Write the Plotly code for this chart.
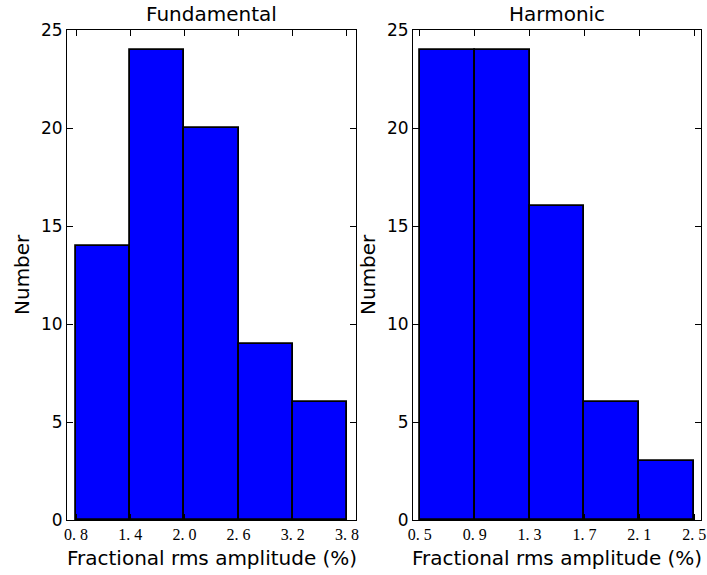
import numpy as np
import plotly.graph_objects as go

# Data
fund_edges = [0.8, 1.4, 2.0, 2.6, 3.2, 3.8]
fund_counts = [14, 24, 20, 9, 6]
harm_edges = [0.5, 0.9, 1.3, 1.7, 2.1, 2.5]
harm_counts = [24, 24, 16, 6, 3]
fund_ticktext = ["0. 8", "1. 4", "2. 0", "2. 6", "3. 2", "3. 8"]
harm_ticktext = ["0. 5", "0. 9", "1. 3", "1. 7", "2. 1", "2. 5"]
y_ticks = [0, 5, 10, 15, 20, 25]
titles = ["Fundamental", "Harmonic"]
xlabel = "Fractional rms amplitude (%)"
ylabel = "Number"

W, H = 707, 575

def centers_widths(edges):
    e = np.array(edges)
    return (e[:-1] + e[1:]) / 2, np.diff(e)

fig = go.Figure()
fc, fw = centers_widths(fund_edges)
hc, hw = centers_widths(harm_edges)
bar_marker = dict(color="#0000ff", line=dict(color="black", width=1.8))
fig.add_trace(go.Bar(x=fc, y=fund_counts, width=fw, marker=bar_marker,
                     xaxis="x", yaxis="y", showlegend=False, hoverinfo="skip"))
fig.add_trace(go.Bar(x=hc, y=harm_counts, width=hw, marker=bar_marker,
                     xaxis="x2", yaxis="y2", showlegend=False, hoverinfo="skip"))

sans = "DejaVu Sans"
serif = "Liberation Serif"

def xax(domain, rng, ticks, ttext, anchor):
    return dict(domain=domain, range=rng, tickvals=ticks, ticktext=ttext, anchor=anchor, automargin=False,
                showgrid=False, zeroline=False, showline=True, linecolor="black", linewidth=1, mirror="ticks",
                ticks="inside", ticklen=6, tickcolor="black",
                tickfont=dict(family=serif, size=16, color="black"))

def yax(domain, anchor):
    return dict(domain=domain, range=[0, 25], tickvals=y_ticks, anchor=anchor, automargin=False,
                showgrid=False, zeroline=False, showline=True, linecolor="black", linewidth=1, mirror="ticks",
                ticks="inside", ticklen=6, tickcolor="black",
                tickfont=dict(family=sans, size=17, color="black"))

L1, R1, L2, R2 = 67, 356, 413, 701
TOP, BOT = 30, 520
ydom = [(H - BOT) / H, (H - TOP) / H]

def ann(text, x, y, angle=0):
    return dict(text=text, x=x / W, y=1 - y / H, xref="paper", yref="paper", showarrow=False,
                textangle=angle, font=dict(family=sans, size=20, color="black"),
                xanchor="center", yanchor="middle", borderpad=0)

fig.update_layout(
    width=W, height=H, paper_bgcolor="white", plot_bgcolor="white",
    margin=dict(l=0, r=0, t=0, b=0), bargap=0,
    xaxis=xax([L1 / W, R1 / W], [0.7, 3.9], fund_edges, fund_ticktext, "y"),
    yaxis=yax(ydom, "x"),
    xaxis2=xax([L2 / W, R2 / W], [0.45, 2.55], harm_edges, harm_ticktext, "y2"),
    yaxis2=yax(ydom, "x2"),
    annotations=[
        ann(titles[0], (L1 + R1) / 2, 14),
        ann(titles[1], (L2 + R2) / 2, 14),
        ann(xlabel, (L1 + R1) / 2, 558),
        ann(xlabel, (L2 + R2) / 2, 558),
        ann(ylabel, 22, (TOP + BOT) / 2, -90),
        ann(ylabel, 368, (TOP + BOT) / 2, -90),
    ],
)

fig.write_html("out.html", config={"displayModeBar": False},
               post_script="document.body.style.margin='0';document.body.style.padding='0';")
